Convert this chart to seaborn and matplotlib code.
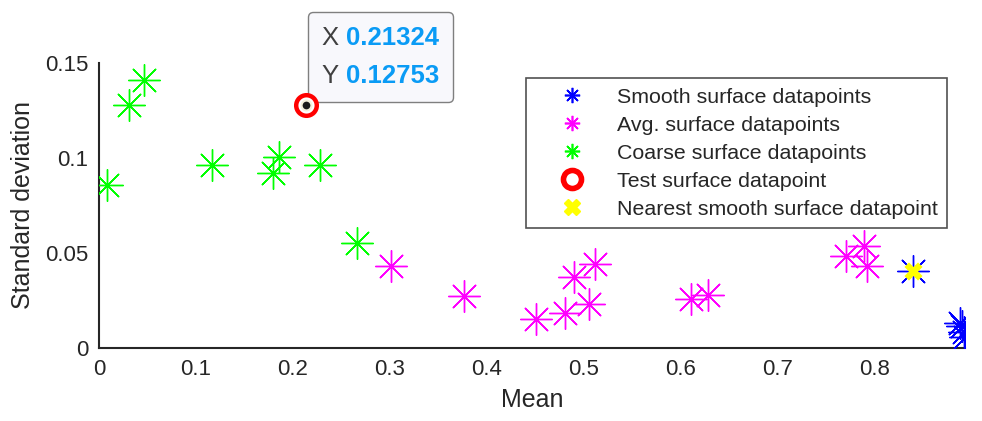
import numpy as np
import pandas as pd
import seaborn as sns
import matplotlib.pyplot as plt
from matplotlib.lines import Line2D
from matplotlib.offsetbox import TextArea, HPacker, VPacker, AnnotationBbox

sns.set_theme(style="white")
plt.rcParams['font.family'] = ['Liberation Sans', 'DejaVu Sans']

# data
smooth_x = [0.840, 0.888, 0.890, 0.892, 0.8935]
smooth_y = [0.0404, 0.0132, 0.0112, 0.0085, 0.0055]
avg_x = [0.3007, 0.376, 0.451, 0.481, 0.490, 0.5055, 0.5117, 0.611, 0.628, 0.770, 0.789, 0.7925]
avg_y = [0.0432, 0.0272, 0.0153, 0.0183, 0.0372, 0.0232, 0.0442, 0.0255, 0.0276, 0.0484, 0.0535, 0.0432]
coarse_x = [0.0082, 0.0306, 0.0464, 0.1165, 0.179, 0.186, 0.228, 0.2657]
coarse_y = [0.0856, 0.128, 0.141, 0.0962, 0.0921, 0.1005, 0.0962, 0.0553]
test_x, test_y = 0.21324, 0.12753
nearest_x, nearest_y = 0.840, 0.0404

groups = ['Smooth surface datapoints', 'Avg. surface datapoints', 'Coarse surface datapoints']
colors = ['#0000ff', '#ff00ff', '#00ff00']
xticks = [0, 0.1, 0.2, 0.3, 0.4, 0.5, 0.6, 0.7, 0.8]
xticklabels = ['0', '0.1', '0.2', '0.3', '0.4', '0.5', '0.6', '0.7', '0.8']
yticks = [0, 0.05, 0.1, 0.15]
yticklabels = ['0', '0.05', '0.1', '0.15']

df = pd.DataFrame({
    'Mean': smooth_x + avg_x + coarse_x,
    'Std': smooth_y + avg_y + coarse_y,
    'Type': [groups[0]] * len(smooth_x) + [groups[1]] * len(avg_x) + [groups[2]] * len(coarse_x),
})

fig = plt.figure(figsize=(9.82, 4.21), dpi=100)
ax = fig.add_axes([0.101, 0.174, 0.882, 0.677])

star = (8, 2, 0)
for g, c in zip(groups, colors):
    sns.scatterplot(data=df[df['Type'] == g], x='Mean', y='Std', marker=star, s=520,
                    color=c, linewidth=1.0, ax=ax, legend=False, zorder=3)

sns.scatterplot(x=[nearest_x], y=[nearest_y], marker='X', s=170, color='#ffff00',
                edgecolor='#ffff00', linewidth=0, ax=ax, legend=False, zorder=4)
sns.scatterplot(x=[test_x], y=[test_y], marker='o', s=220, color='white',
                edgecolor='#ff0000', linewidth=3.2, ax=ax, legend=False, zorder=8)
# datatip marker
sns.scatterplot(x=[test_x], y=[test_y], marker='o', s=50, color='#1a1a1a',
                edgecolor='#f5f0dc', linewidth=1.5, ax=ax, legend=False, zorder=9)

ax.set_xlim(0, 0.8935)
ax.set_ylim(0, 0.15)
ax.set_xticks(xticks)
ax.set_xticklabels(xticklabels)
ax.set_yticks(yticks)
ax.set_yticklabels(yticklabels)
ax.set_xlabel('Mean', size=18, color='#262626', labelpad=6)
ax.set_ylabel('Standard deviation', size=18, color='#262626', labelpad=7)
ax.tick_params(axis='both', direction='in', length=6, width=1.5, labelsize=16,
               colors='#262626', pad=8)
for side in ['top', 'right']:
    ax.spines[side].set_visible(False)
for side in ['left', 'bottom']:
    ax.spines[side].set_color('#262626')
    ax.spines[side].set_linewidth(1.5)

handles = [Line2D([], [], linestyle='none', marker=star, markersize=11, markeredgewidth=1.2, color=c)
           for c in colors]
handles.append(Line2D([], [], linestyle='none', marker='o', markersize=13, markerfacecolor='white',
                      markeredgecolor='#ff0000', markeredgewidth=4))
handles.append(Line2D([], [], linestyle='none', marker='X', markersize=12, color='#ffff00'))
labels = groups + ['Test surface datapoint', 'Nearest smooth surface datapoint']
leg = ax.legend(handles, labels, loc='upper right', bbox_to_anchor=(0.979, 0.946),
                prop={'family': ['Liberation Sans'], 'size': 15.4}, frameon=True,
                fancybox=False, edgecolor='#262626', borderpad=0.45, labelspacing=0.42,
                handletextpad=0.35, borderaxespad=0, handlelength=3.45)
leg.get_frame().set_linewidth(1.2)
leg.set_zorder(10)

# datatip box
tip_font = {'family': ['Liberation Sans'], 'size': 18.5}
row_x = HPacker(children=[TextArea('X', textprops=dict(color='#404040', **tip_font)),
                          TextArea('0.21324', textprops=dict(color='#0a9bf5', weight='bold', **tip_font))],
                sep=5, align='baseline')
row_y = HPacker(children=[TextArea('Y', textprops=dict(color='#404040', **tip_font)),
                          TextArea('0.12753', textprops=dict(color='#0a9bf5', weight='bold', **tip_font))],
                sep=5, align='baseline')
tip = VPacker(children=[row_x, row_y], sep=10, align='left', pad=0)
ab = AnnotationBbox(tip, (test_x, test_y), xybox=(11.5, 12.5), boxcoords='offset points',
                    box_alignment=(0, 0), frameon=True, pad=0, fontsize=10,
                    bboxprops=dict(boxstyle='round,pad=1.0,rounding_size=0.35', facecolor='#f8f8fc',
                                   edgecolor='#7f7f7f', linewidth=1))
ab.set_zorder(7)
ax.add_artist(ab)

fig.savefig('out.png', dpi=100)
